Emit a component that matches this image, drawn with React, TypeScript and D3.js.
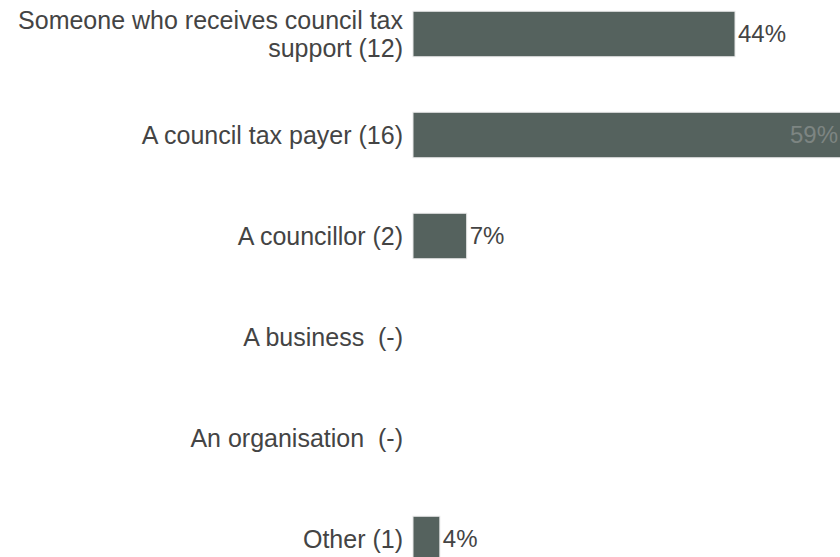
import React from 'react';
import * as d3 from 'd3';

const categories = [
    'Someone who receives council tax support (12)',
    'A council tax payer (16)',
    'A councillor (2)',
    'A business  (-)',
    'An organisation  (-)',
    'Other (1)'
];
const labelLines = [
    ['Someone who receives council tax', 'support (12)'],
    ['A council tax payer (16)'],
    ['A councillor (2)'],
    ['A business  (-)'],
    ['An organisation  (-)'],
    ['Other (1)']
];
const counts = [12, 16, 2, 0, 0, 1];
const respondents = 27;
const pctLabels = ['44%', '59%', '7%', '', '', '4%'];

const width = 840;
const height = 557;

const App: React.FC = () => {
    const x = d3.scaleLinear().domain([0, 100]).range([413, 413 + 724.5]);
    const y = d3.scaleBand<string>()
        .domain(categories)
        .range([-16.5, 589.5])
        .paddingInner(0.55)
        .paddingOuter(0.275);

    const share = (c: number) => (c / respondents) * 100;
    const font = 'Arial, "Liberation Sans", sans-serif';

    return (
        <svg width={width} height={height}
            style={{ position: 'absolute', left: 0, top: 0, background: '#fff' }}>
            {categories.map((cat, i) => {
                const y0 = y(cat)!;
                const cy = y0 + y.bandwidth() / 2;
                const w = x(share(counts[i])) - x(0);
                const lines = labelLines[i];
                const inside = x(share(counts[i])) > width - 40;
                return (
                    <g key={cat}>
                        {lines.map((ln, j) => (
                            <text key={j} x={403}
                                y={cy + (j - (lines.length - 1) / 2) * 28}
                                dy="0.35em" textAnchor="end"
                                style={{ whiteSpace: 'pre' }}
                                fontFamily={font} fontSize={25} fill="#444">
                                {ln}
                            </text>
                        ))}
                        {counts[i] > 0 && (
                            <rect x={x(0)} y={y0} width={w} height={y.bandwidth()}
                                fill="#55625e" stroke="#e6e6e6" strokeWidth={1} />
                        )}
                        {pctLabels[i] && (
                            <text
                                x={inside ? width - 2 : x(share(counts[i])) + 3}
                                y={cy} dy="0.35em"
                                textAnchor={inside ? 'end' : 'start'}
                                fontFamily={font} fontSize={24}
                                fill={inside ? '#7d8582' : '#444'}>
                                {pctLabels[i]}
                            </text>
                        )}
                    </g>
                );
            })}
        </svg>
    );
};

export default App;
